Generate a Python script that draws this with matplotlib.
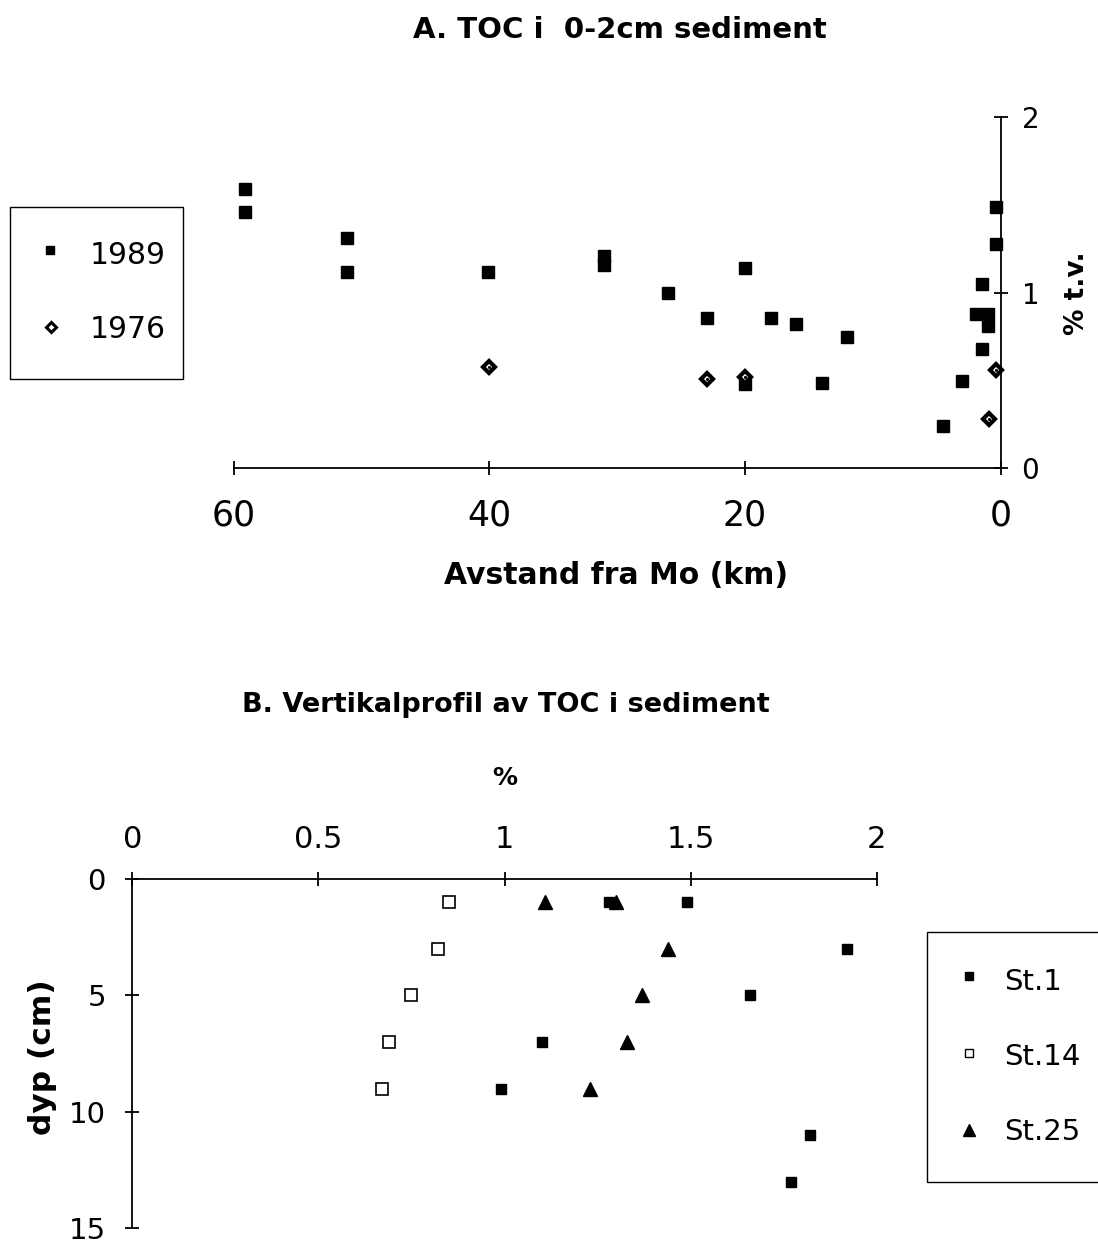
import matplotlib
matplotlib.use("Agg")
import matplotlib.pyplot as plt
from matplotlib.lines import Line2D
from matplotlib.patches import Rectangle

plt.rcParams['font.family'] = ['DejaVu Sans']

# ---------------- Panel A data ----------------
km_1989 = [59.1, 59.1, 51.1, 51.1, 40.1, 31.0, 31.0, 26.0, 23.0, 20.0, 18.0, 16.0,
           12.0, 14.0, 20.0, 4.5, 3.0, 1.9, 1.0, 1.5, 1.0, 1.5, 0.4, 0.4]
toc_1989 = [1.59, 1.46, 1.31, 1.12, 1.12, 1.21, 1.16, 1.00, 0.855, 1.14, 0.855, 0.82,
            0.75, 0.485, 0.48, 0.24, 0.50, 0.88, 0.88, 1.05, 0.81, 0.68, 1.49, 1.28]
km_1976 = [40.0, 23.0, 20.0, 0.4, 0.9]
toc_1976 = [0.575, 0.51, 0.52, 0.56, 0.28]
xticks_a = [60, 40, 20, 0]
yticks_a = [0, 1, 2]
legend_a = ["1989", "1976"]

# ---------------- Panel B data ----------------
st1_x = [1.28, 1.49, 1.92, 1.66, 1.10, 0.99, 1.82, 1.77]
st1_d = [1, 1, 3, 5, 7, 9, 11, 13]
st14_x = [0.85, 0.82, 0.75, 0.69, 0.67]
st14_d = [1, 3, 5, 7, 9]
st25_x = [1.11, 1.30, 1.44, 1.37, 1.33, 1.23]
st25_d = [1, 1, 3, 5, 7, 9]
xticks_b = [0, 0.5, 1, 1.5, 2]
xticklabels_b = ["0", "0.5", "1", "1.5", "2"]
yticks_b = [0, 5, 10, 15]
legend_b = ["St.1", "St.14", "St.25"]

W, H = 1098, 1245
fig = plt.figure(figsize=(W / 100, H / 100), dpi=100)


def fx(px):
    return px / W


def fy(py):
    return 1 - py / H


def fig_marker(x, y, **kw):
    fig.add_artist(Line2D([fx(x)], [fy(y)], transform=fig.transFigure,
                          linestyle='none', **kw))


def fig_box(x0, y0, x1, y1):
    fig.add_artist(Rectangle((fx(x0), fy(y1)), (x1 - x0) / W, (y1 - y0) / H,
                             transform=fig.transFigure, fill=False,
                             edgecolor='black', linewidth=1.0))


# ================= Panel A =================
l, r, t, b = 233.7, 1000.7, 117.3, 468.3
ax1 = fig.add_axes([fx(l), fy(b), (r - l) / W, (b - t) / H])
ax1.set_xlim(60, 0)
ax1.set_ylim(0, 2)
for s in ['left', 'top']:
    ax1.spines[s].set_visible(False)
for s in ['right', 'bottom']:
    ax1.spines[s].set_linewidth(1.3)
ax1.yaxis.tick_right()
ax1.set_xticks(xticks_a)
ax1.set_xticklabels([str(v) for v in xticks_a])
ax1.set_yticks(yticks_a)
ax1.set_yticklabels([str(v) for v in yticks_a])
ax1.tick_params(axis='x', direction='inout', length=10, width=1.3, labelsize=25, pad=17)
ax1.tick_params(axis='y', direction='inout', length=10, width=1.3, labelsize=20, pad=10)

ax1.plot(km_1989, toc_1989, linestyle='none', marker='s', ms=8, color='black',
         clip_on=False, zorder=3)
ax1.plot(km_1976, toc_1976, linestyle='none', marker='D', ms=6.5, mfc='white',
         mec='black', mew=3.0, clip_on=False, zorder=4)
ax1.plot(km_1976, toc_1976, linestyle='none', marker='.', ms=2.5, color='black',
         clip_on=False, zorder=5)

fig.text(fx(620), fy(30), "A. TOC i  0-2cm sediment", ha='center', va='center',
         fontsize=21, fontweight='bold')
fig.text(fx(616), fy(575), "Avstand fra Mo (km)", ha='center', va='center',
         fontsize=21.5, fontweight='bold')
fig.text(fx(1077), fy(293), "% t.v.", ha='center', va='center', rotation=90,
         fontsize=19, fontweight='bold')

# legend A
fig_box(10, 207, 183, 379)
fig_marker(50, 250, marker='s', ms=6, color='black')
fig_marker(51, 327, marker='D', ms=5, mfc='white', mec='black', mew=2.2)
fig.text(fx(90), fy(255), legend_a[0], ha='left', va='center', fontsize=21.5)
fig.text(fx(90), fy(330), legend_a[1], ha='left', va='center', fontsize=21.5)

# ================= Panel B =================
l, r, t, b = 132.3, 876.7, 879.0, 1228.3
ax2 = fig.add_axes([fx(l), fy(b), (r - l) / W, (b - t) / H])
ax2.set_xlim(0, 2)
ax2.set_ylim(15, 0)
for s in ['right', 'bottom']:
    ax2.spines[s].set_visible(False)
for s in ['left', 'top']:
    ax2.spines[s].set_linewidth(1.3)
ax2.xaxis.tick_top()
ax2.set_xticks(xticks_b)
ax2.set_xticklabels(xticklabels_b)
ax2.set_yticks(yticks_b)
ax2.set_yticklabels([str(v) for v in yticks_b])
ax2.tick_params(axis='x', direction='inout', length=10, width=1.3, labelsize=22, pad=13)
ax2.tick_params(axis='y', direction='inout', length=10, width=1.3, labelsize=21, pad=14)

ax2.plot(st1_x, st1_d, linestyle='none', marker='s', ms=7.5, color='black',
         clip_on=False, zorder=3)
ax2.plot(st14_x, st14_d, linestyle='none', marker='s', ms=8, mfc='white',
         mec='black', mew=1.2, clip_on=False, zorder=3)
ax2.plot(st25_x, st25_d, linestyle='none', marker='^', ms=10, color='black',
         clip_on=False, zorder=3)

fig.text(fx(506), fy(705), "B. Vertikalprofil av TOC i sediment", ha='center',
         va='center', fontsize=19.5, fontweight='bold')
fig.text(fx(505), fy(778), "%", ha='center', va='center', fontsize=18,
         fontweight='bold')
fig.text(fx(43), fy(1057), "dyp (cm)", ha='center', va='center', rotation=90,
         fontsize=22.5, fontweight='bold')

# legend B
fig_box(927, 932, 1120, 1182)
fig_marker(969, 976, marker='s', ms=6, color='black')
fig_marker(969, 1053, marker='s', ms=6, mfc='white', mec='black', mew=1.0)
fig_marker(969, 1130, marker='^', ms=8, color='black')
fig.text(fx(1004), fy(982), legend_b[0], ha='left', va='center', fontsize=21)
fig.text(fx(1004), fy(1057), legend_b[1], ha='left', va='center', fontsize=21)
fig.text(fx(1004), fy(1132), legend_b[2], ha='left', va='center', fontsize=21)

fig.savefig("out.png", dpi=100, facecolor='white')
